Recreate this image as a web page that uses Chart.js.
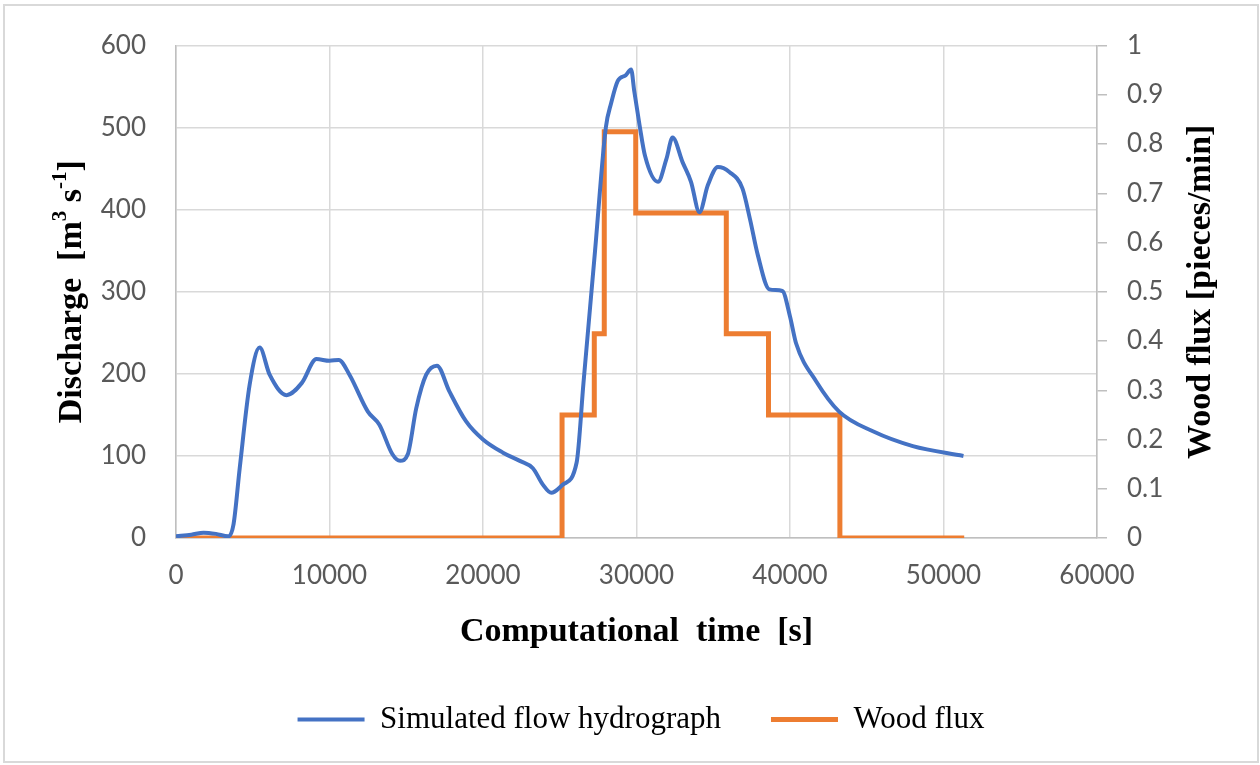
<!DOCTYPE html>
<html>
<head>
<meta charset="utf-8">
<title>Simulated flow hydrograph and wood flux</title>
<script src="https://cdn.jsdelivr.net/npm/chart.js@4.4.1/dist/chart.umd.min.js"></script>
<style>
  html, body { margin: 0; padding: 0; background: #fff; }
  #wrap { position: relative; width: 1260px; height: 765px; }
  #frame {
    position: absolute; left: 3px; top: 4px; width: 1256px; height: 759px;
    border: 2px solid #d9d9d9; box-sizing: border-box; pointer-events: none;
  }
</style>
</head>
<body>
<div id="wrap">
  <canvas id="chart"></canvas>
  <div id="frame"></div>
</div>
<script>
// discharge series [s] / [m3 s-1]
const flowTime = [
  0, 1000, 1800, 2600, 3400, 3750, 4150, 4800, 5450, 6100,
  7200, 8200, 9150, 10000, 10600, 11300, 12500, 13250, 14100, 14600,
  15100, 15650, 16300, 17000, 17800, 18900, 20000, 21300, 22400, 23250,
  23900, 24450, 25200, 26100, 26550, 27300, 28000, 28350, 28780, 29300,
  29650, 29850, 30200, 30550, 31400, 31950, 32350, 33000, 33550, 34100,
  34650, 35300, 36050, 36900, 37400, 37900, 38650, 39500, 40000, 40400,
  41700, 43200, 45400, 48000, 51300
];
const flowQ = [
  2, 4, 6.5, 5, 2, 17, 85, 187, 232, 199,
  174, 189, 218, 216, 217, 199, 154, 138, 102, 94,
  102, 158, 199, 210, 179, 142, 120, 104, 94, 85,
  65, 55, 65, 92, 190, 350, 500, 530, 557, 564,
  571, 545, 503, 466, 434, 462, 488, 458, 434, 397,
  430, 452, 446, 426, 388, 345, 303, 301, 270, 237,
  191, 154, 130, 112, 100
];

// wood flux steps [s] / [pieces/min], value holds up to the given time
const woodTime = [0, 25150, 27250, 27900, 29950, 35850, 38600, 43250, 51350];
const woodFlux = [0, 0.25, 0.415, 0.825, 0.66, 0.415, 0.25, 0, 0];

// axis ticks
const timeTicks = [0, 10000, 20000, 30000, 40000, 50000, 60000];
const qTicks = [0, 100, 200, 300, 400, 500, 600];
const fluxTicks = [0, 0.1, 0.2, 0.3, 0.4, 0.5, 0.6, 0.7, 0.8, 0.9, 1];

const BLUE = '#4472C4';
const ORANGE = '#ED7D31';
const GRID = '#d9d9d9';
const AXIS = '#bfbfbf';
const TICK_FONT = { family: 'Lato', size: 26 };
const TITLE_FONT = 'bold 34px "Liberation Serif", "Times New Roman", serif';
const SUP_FONT = 'bold 21px "Liberation Serif", "Times New Roman", serif';

const xTitle = [{ t: 'Computational  time  [s]' }];
const yTitle = [{ t: 'Discharge  [m' }, { t: '3', sup: true }, { t: ' s' }, { t: '-1', sup: true }, { t: ']' }];
const y2Title = [{ t: 'Wood flux [pieces/min]' }];

function setTicks(values) {
  return scale => { scale.ticks = values.map(v => ({ value: v })); };
}

// text with superscripts, centred on (cx, cy), optionally rotated
function drawRuns(ctx, runs, cx, cy, angle) {
  ctx.save();
  ctx.translate(cx, cy);
  ctx.rotate(angle);
  ctx.fillStyle = '#000';
  ctx.textBaseline = 'middle';
  ctx.textAlign = 'left';
  let total = 0;
  runs.forEach(r => {
    ctx.font = r.sup ? SUP_FONT : TITLE_FONT;
    r.w = ctx.measureText(r.t).width;
    total += r.w;
  });
  let x = -total / 2;
  runs.forEach(r => {
    ctx.font = r.sup ? SUP_FONT : TITLE_FONT;
    ctx.fillText(r.t, x, r.sup ? -11 : 0);
    x += r.w;
  });
  ctx.restore();
}

const axisTitles = {
  id: 'axisTitles',
  afterDraw(chart) {
    const ctx = chart.ctx;
    const a = chart.chartArea;
    const midY = (a.top + a.bottom) / 2;
    drawRuns(ctx, xTitle, (a.left + a.right) / 2, 632, 0);
    drawRuns(ctx, yTitle, 72, midY, -Math.PI / 2);
    drawRuns(ctx, y2Title, 1201, midY, -Math.PI / 2);
  }
};

const ctx = document.getElementById('chart').getContext('2d');
new Chart(ctx, {
  type: 'line',
  data: {
    datasets: [
      {
        label: 'Simulated flow hydrograph',
        data: flowTime.map((t, i) => ({ x: t, y: flowQ[i] })),
        borderColor: BLUE,
        backgroundColor: BLUE,
        borderWidth: 4,
        pointRadius: 0,
        cubicInterpolationMode: 'monotone',
        yAxisID: 'y'
      },
      {
        label: 'Wood flux',
        data: woodTime.map((t, i) => ({ x: t, y: woodFlux[i] })),
        borderColor: ORANGE,
        backgroundColor: ORANGE,
        borderWidth: 5,
        pointRadius: 0,
        stepped: 'before',
        borderCapStyle: 'butt',
        borderJoinStyle: 'miter',
        yAxisID: 'y2'
      }
    ]
  },
  options: {
    responsive: true,
    maintainAspectRatio: false,
    animation: false,
    layout: { padding: { top: 43, bottom: 20, left: 22, right: 0 } },
    scales: {
      x: {
        type: 'linear',
        min: 0,
        max: 60000,
        afterBuildTicks: setTicks(timeTicks),
        afterFit: s => { s.height = 116; },
        grid: { color: GRID, lineWidth: 1.5, drawTicks: false },
        border: { color: AXIS, width: 1.5 },
        ticks: { font: TICK_FONT, color: '#595959', padding: 22, maxRotation: 0, callback: v => String(v) }
      },
      y: {
        position: 'left',
        min: 0,
        max: 600,
        afterBuildTicks: setTicks(qTicks),
        afterFit: s => { s.width = 154; },
        grid: { color: GRID, lineWidth: 1.5, drawTicks: false },
        border: { color: AXIS, width: 1.5 },
        ticks: { font: TICK_FONT, color: '#595959', padding: 30, callback: v => String(v) }
      },
      y2: {
        position: 'right',
        min: 0,
        max: 1,
        afterBuildTicks: setTicks(fluxTicks),
        afterFit: s => { s.width = 163; },
        grid: { drawOnChartArea: false, color: AXIS, lineWidth: 1.5, tickLength: 10 },
        border: { color: AXIS, width: 1.5 },
        ticks: { font: TICK_FONT, color: '#595959', padding: 20, callback: v => String(v) }
      }
    },
    plugins: {
      legend: {
        position: 'bottom',
        labels: {
          usePointStyle: true,
          pointStyle: 'line',
          pointStyleWidth: 67,
          font: { family: 'Liberation Serif', size: 31 },
          color: '#000',
          padding: 50
        }
      },
      tooltip: { enabled: false }
    }
  },
  plugins: [axisTitles]
});
</script>
</body>
</html>
